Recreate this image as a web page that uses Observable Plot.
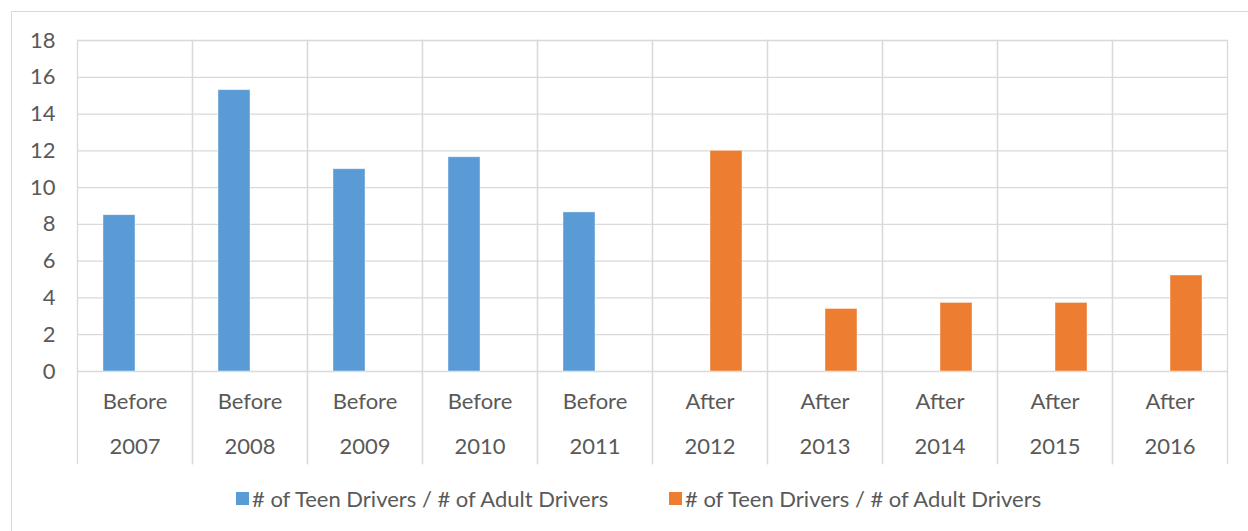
<!DOCTYPE html>
<html>
<head>
<meta charset="utf-8">
<script src="https://cdn.jsdelivr.net/npm/d3@7"></script>
<script src="https://cdn.jsdelivr.net/npm/@observablehq/plot@0.6"></script>
<style>
  html, body { margin: 0; padding: 0; background: #fff; }
  #wrap { position: relative; width: 1248px; height: 531px; overflow: hidden; font-family: "Lato", sans-serif; }
  #border { position: absolute; left: 11px; top: 11px; width: 1300px; height: 600px; border-left: 1px solid #d9d9d9; border-top: 1px solid #d9d9d9; }
  #chart { position: absolute; left: 0; top: 0; }
  .leg { position: absolute; top: 485px; display: flex; align-items: center; font-size: 22px; color: #595959; white-space: nowrap; }
  .sw { width: 13px; height: 13px; margin-right: 3px; }
</style>
</head>
<body>
<div id="wrap">
  <div id="border"></div>
  <div id="chart"></div>
  <div class="leg" style="left:236px"><div class="sw" style="background:#5b9bd5"></div><span id="l1"></span></div>
  <div class="leg" style="left:669px"><div class="sw" style="background:#ed7d31"></div><span id="l2"></span></div>
</div>
<script>
const years = ["2007","2008","2009","2010","2011","2012","2013","2014","2015","2016"];
const periods = ["Before","Before","Before","Before","Before","After","After","After","After","After"];
const series = ["s1","s1","s1","s1","s1","s2","s2","s2","s2","s2"];
const values = [8.5, 15.3, 11.0, 11.65, 8.65, 12.0, 3.4, 3.73, 3.73, 5.22];
const seriesNames = ["# of Teen Drivers / # of Adult Drivers", "# of Teen Drivers / # of Adult Drivers"];
const seriesKeys = ["s1","s2"];
const seriesColors = ["#5b9bd5","#ed7d31"];
const yTicks = [0,2,4,6,8,10,12,14,16,18];

const data = years.map((y, i) => ({year: y, period: periods[i], series: series[i], value: values[i]}));
const periodOf = Object.fromEntries(years.map((y, i) => [y, periods[i]]));

document.getElementById("l1").textContent = seriesNames[0];
document.getElementById("l2").textContent = seriesNames[1];

const grid = "#d9d9d9";
const chart = Plot.plot({
  width: 1248,
  height: 480,
  marginLeft: 74,
  marginRight: 19,
  marginTop: 40,
  marginBottom: 109,
  style: {fontFamily: "Lato", fontSize: "22px", color: "#595959", background: "transparent"},
  fx: {domain: years, padding: 0, label: null},
  x: {domain: seriesKeys, paddingInner: 0, paddingOuter: 0.75, axis: null},
  y: {domain: [0, 18], label: null},
  color: {domain: seriesKeys, range: seriesColors},
  marks: [
    Plot.gridY(yTicks, {stroke: grid, strokeOpacity: 1, strokeWidth: 1.3}),
    Plot.frame({anchor: "left", stroke: grid, strokeOpacity: 1, strokeWidth: 1.3, insetBottom: -92}),
    Plot.frame({anchor: "right", stroke: grid, strokeOpacity: 1, strokeWidth: 1.3, insetBottom: -92}),
    Plot.barY(data, {fx: "year", x: "series", y: "value", fill: "series", stroke: "#ffffff", strokeOpacity: 0.5, strokeWidth: 0.8}),
    Plot.axisY(yTicks, {tickSize: 0, tickPadding: 22, label: null}),
    Plot.axisFx({anchor: "bottom", tickSize: 0, tickPadding: 22, tickFormat: d => periodOf[d], label: null}),
    Plot.axisFx({anchor: "bottom", tickSize: 0, tickPadding: 67, tickFormat: d => d, label: null})
  ]
});
document.getElementById("chart").appendChild(chart);
</script>
</body>
</html>
